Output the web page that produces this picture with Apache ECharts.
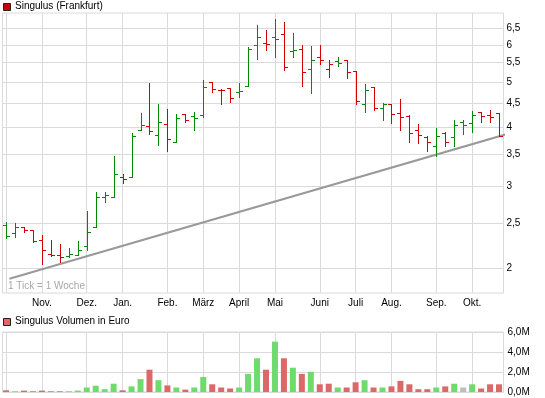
<!DOCTYPE html>
<html><head><meta charset="utf-8">
<script src="https://cdn.jsdelivr.net/npm/echarts@6/dist/echarts.min.js"></script>
<style>html,body{margin:0;padding:0;background:#fff}#c{width:545px;height:398px}</style>
</head><body><div id="c"></div>
<script>
// ---- data (weekly bars, Singulus, Frankfurt) ----
const monthLabels = ['Nov.','Dez.','Jan.','Feb.','März','April','Mai','Juni','Juli','Aug.','Sep.','Okt.'];
const monthWeekIndex = [4,9,13,18,22,26,30,35,39,43,48,52];
const monthGridIndex = [0,4,9,13,18,22,26,30,35,39,43,48,52];
const priceTicks = [2,2.5,3,3.5,4,4.5,5,5.5,6,6.5];

const open  = [2.474,2.387,2.45,2.42,2.30,2.145,2.14,2.13,2.14,2.24,2.46,2.85,2.84,3.14,3.14,3.96,4.04,3.86,4.08,3.72,4.27,4.23,4.25,5.0,4.81,4.86,4.77,4.91,6.01,6.05,6.25,6.34,5.83,5.87,5.34,5.66,5.32,5.54,5.58,5.27,4.48,4.89,4.41,4.50,4.29,4.23,3.96,3.82,3.65,3.90,3.81,4.12,4.09,4.31,4.25,4.30];
const high  = [2.51,2.50,2.45,2.42,2.365,2.30,2.257,2.21,2.29,2.66,2.91,2.92,3.47,3.18,3.90,4.30,4.99,4.49,4.39,4.28,4.275,4.31,5.04,5.0,4.83,4.86,4.98,5.95,6.63,6.47,6.80,6.71,6.35,6.01,5.98,6.01,5.56,5.66,5.58,5.27,4.96,4.89,4.51,4.50,4.61,4.25,4.08,3.83,3.99,3.91,4.16,4.15,4.34,4.31,4.36,4.30];
const low   = [2.33,2.34,2.39,2.28,2.047,2.13,2.07,2.12,2.14,2.19,2.46,2.78,2.84,3.05,3.14,3.95,3.87,3.67,3.57,3.72,4.12,3.96,4.22,4.76,4.50,4.54,4.65,4.91,5.60,5.85,5.65,5.30,5.66,4.90,4.75,5.47,5.13,5.42,5.10,4.48,4.32,4.37,4.15,4.10,3.95,3.72,3.70,3.57,3.48,3.65,3.65,3.87,3.91,4.11,4.12,3.84];
const close = [2.35,2.45,2.42,2.29,2.19,2.14,2.12,2.15,2.19,2.39,2.85,2.87,3.18,3.10,3.84,4.06,3.93,4.11,3.775,4.19,4.16,4.20,4.89,4.84,4.80,4.63,4.78,5.88,6.25,6.02,6.18,5.39,5.85,5.25,5.58,5.56,5.47,5.49,5.25,4.55,4.81,4.41,4.50,4.27,4.22,3.89,3.85,3.72,3.84,3.72,4.06,4.06,4.25,4.23,4.22,3.84];
// u = up week, d = down week, n = unchanged
const priceTrend = ['u','u','d','d','d','d','d','u','u','u','u','u','u','d','u','u','d','u','d','u','d','u','u','d','d','d','u','u','u','d','u','d','u','d','u','d','d','u','d','d','u','d','u','d','d','d','d','d','u','d','u','u','u','d','d','d'];
const volumeMio = [0.17,0.07,0.14,0.07,0.14,0.07,0.07,0.07,0.14,0.45,0.63,0.28,0.83,0.17,0.56,1.29,2.23,1.18,0.66,0.45,0.24,0.45,1.50,0.77,0.45,0.35,0.45,1.81,3.37,2.23,5.04,3.37,2.43,1.81,2.02,0.77,0.83,0.45,0.45,0.97,1.18,0.45,0.45,0.56,1.11,0.77,0.28,0.28,0.45,0.56,0.83,0.45,0.77,0.35,0.77,0.77];
const volumeTrend = ['d','u','d','d','d','d','d','u','u','u','u','u','u','d','u','u','d','u','d','u','d','u','u','d','d','d','u','u','u','d','u','d','u','d','u','d','d','u','d','d','u','d','u','d','d','d','d','d','u','d','u','n','u','d','d','d'];
// support line: [week position, price]
const trendLine = [[0.37,1.904],[56.7,3.914]];
</script>
<script>
const FONT = '"Liberation Sans", Arial, sans-serif';
const GREEN = '#008a00', RED = '#d40000';
const VGREEN = '#6ddc6d', VRED = '#dc6868', VGRAY = '#bdbdbd';
const GRID = '#dadada';
const XMIN = -0.4, XMAX = 55.5;

const chart = echarts.init(document.getElementById('c'), null, {renderer: 'canvas'});
const fmtMonth = v => { const k = monthWeekIndex.indexOf(Math.round(v)); return k >= 0 ? monthLabels[k] : ''; };

chart.setOption({
  animation: false,
  backgroundColor: '#fff',
  textStyle: {fontFamily: FONT},
  grid: [
    {left: 2.5, top: 13, width: 501, height: 280, show: true, borderColor: GRID, borderWidth: 1},
    {left: 2.5, top: 332, width: 501, height: 60, show: true, borderColor: GRID, borderWidth: 1}
  ],
  xAxis: [
    {type: 'value', gridIndex: 0, min: XMIN, max: XMAX,
     axisLine: {show: false}, axisTick: {show: false, customValues: monthGridIndex},
     axisLabel: {customValues: monthWeekIndex, formatter: fmtMonth, fontSize: 10, color: '#000', margin: 5, fontFamily: FONT},
     splitLine: {show: true, lineStyle: {color: GRID, width: 1}}},
    {type: 'value', gridIndex: 1, min: XMIN, max: XMAX,
     axisLine: {show: false}, axisTick: {show: false, customValues: monthGridIndex},
     axisLabel: {show: false, customValues: monthWeekIndex},
     splitLine: {show: true, lineStyle: {color: GRID, width: 1}}}
  ],
  yAxis: [
    {type: 'log', logBase: 10, gridIndex: 0, position: 'right', min: 1.775, max: 7.02,
     axisLine: {show: false}, axisTick: {show: false, customValues: priceTicks},
     axisLabel: {customValues: priceTicks, formatter: v => String(+v.toFixed(2)).replace('.', ','), fontSize: 10, color: '#000', margin: 3, fontFamily: FONT},
     splitLine: {show: true, lineStyle: {color: GRID, width: 1}}},
    {type: 'value', gridIndex: 1, position: 'right', min: 0, max: 6, interval: 2,
     axisLine: {show: false}, axisTick: {show: false},
     axisLabel: {formatter: v => v.toFixed(1).replace('.', ',') + 'M', fontSize: 10, color: '#000', margin: 4, fontFamily: FONT},
     splitLine: {show: true, lineStyle: {color: GRID, width: 1}}}
  ],
  graphic: [
    {type: 'rect', left: 3, top: 3, shape: {width: 7, height: 7}, style: {fill: '#cc0000', stroke: '#222', lineWidth: 1}},
    {type: 'text', left: 15, top: 1, style: {text: 'Singulus (Frankfurt)', font: '10px ' + FONT, fill: '#000'}},
    {type: 'text', left: 8, top: 281, z: 0, style: {text: '1 Tick = 1 Woche', font: '10px ' + FONT, fill: '#a8a8a8'}},
    {type: 'rect', left: 3, top: 318, shape: {width: 7, height: 7}, style: {fill: '#dc6868', stroke: '#222', lineWidth: 1}},
    {type: 'text', left: 15, top: 316, style: {text: 'Singulus Volumen in Euro', font: '10px ' + FONT, fill: '#000'}}
  ],
  series: [
    {type: 'line', xAxisIndex: 0, yAxisIndex: 0, data: trendLine, clip: false, silent: true,
     symbol: 'none', lineStyle: {color: '#999', width: 2}, z: 1},
    {type: 'custom', xAxisIndex: 0, yAxisIndex: 0, z: 3,
     data: open.map((o, i) => [i, o, high[i], low[i], close[i]]),
     renderItem: (params, api) => {
       const i = api.value(0);
       const pO = api.coord([i, api.value(1)]);
       const pH = api.coord([i, api.value(2)]);
       const pL = api.coord([i, api.value(3)]);
       const pC = api.coord([i, api.value(4)]);
       const x = Math.round(pO[0]) + 0.5;
       const color = priceTrend[params.dataIndex] === 'u' ? GREEN : RED;
       const st = {stroke: color, lineWidth: 1, fill: null};
       const yo = Math.round(pO[1]) + 0.5, yc = Math.round(pC[1]) + 0.5;
       return {type: 'group', children: [
         {type: 'line', shape: {x1: x, y1: Math.round(pH[1]), x2: x, y2: Math.round(pL[1]) + 1}, style: st},
         {type: 'line', shape: {x1: x - 3.5, y1: yo, x2: x, y2: yo}, style: st},
         {type: 'line', shape: {x1: x, y1: yc, x2: x + 3.5, y2: yc}, style: st}
       ]};
     }},
    {type: 'bar', xAxisIndex: 1, yAxisIndex: 1, barWidth: 6,
     data: volumeMio.map((v, i) => ({value: [i, v], itemStyle: {color: volumeTrend[i] === 'u' ? VGREEN : (volumeTrend[i] === 'd' ? VRED : VGRAY)}}))}
  ]
});
</script>
</body></html>
